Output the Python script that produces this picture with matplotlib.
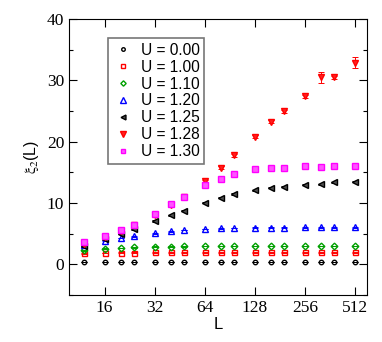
import matplotlib
matplotlib.use('Agg')
import matplotlib.pyplot as plt
from matplotlib.ticker import FixedLocator, NullFormatter

# system sizes
L = [12, 16, 20, 24, 32, 40, 48, 64, 80, 96, 128, 160, 192, 256, 320, 384, 512]

# xi_2(L) for each U
xi_000 = [0.4, 0.4, 0.4, 0.4, 0.4, 0.4, 0.4, 0.4, 0.4, 0.4, 0.4, 0.4, 0.4, 0.4, 0.4, 0.4, 0.4]
xi_100 = [1.8, 1.9, 1.95, 1.95, 2.0, 2.0, 2.0, 2.0, 2.0, 2.0, 2.0, 2.0, 2.0, 2.0, 2.0, 2.0, 2.0]
xi_110 = [2.3, 2.6, 2.7, 2.8, 2.9, 2.9, 2.95, 3.0, 3.0, 3.0, 3.0, 3.0, 3.0, 3.0, 3.0, 3.0, 3.0]
xi_120 = [3.1, 3.9, 4.3, 4.6, 5.1, 5.4, 5.6, 5.8, 5.9, 5.95, 6.0, 6.0, 6.0, 6.05, 6.05, 6.05, 6.05]
xi_125 = [3.0, 4.1, 5.0, 5.8, 7.1, 8.0, 8.8, 10.1, 10.9, 11.5, 12.1, 12.5, 12.7, 13.0, 13.1, 13.4, 13.5]
xi_128 = [3.3, 4.5, 5.5, 6.4, 8.1, 9.7, 11.0, 13.6, 15.8, 17.8, 20.8, 23.3, 25.0, 27.4, 30.5, 30.5, 32.9]
xi_130 = [3.6, 4.6, 5.6, 6.5, 8.3, 9.8, 11.0, 12.9, 14.0, 14.7, 15.5, 15.7, 15.8, 16.0, 15.9, 16.0, 16.0]

err_128 = [0.1, 0.1, 0.1, 0.1, 0.15, 0.15, 0.15, 0.2, 0.2, 0.2, 0.25, 0.25, 0.25, 0.25, 0.9, 0.3, 0.85]
err_small = 0.05

series = [
    ('U = 0.00', xi_000, err_small, 'o', 'none', 'black', 3.2),
    ('U = 1.00', xi_100, err_small, 's', 'none', 'red', 3.6),
    ('U = 1.10', xi_110, err_small, 'D', 'none', '#00a000', 3.4),
    ('U = 1.20', xi_120, err_small, '^', 'none', 'blue', 5.0),
    ('U = 1.25', xi_125, 0.1, '<', '#505050', 'black', 4.4),
    ('U = 1.28', xi_128, err_128, 'v', '#ff2020', 'red', 4.8),
    ('U = 1.30', xi_130, 0.1, 's', '#ff55ff', 'magenta', 4.4),
]

plt.rcParams['mathtext.fontset'] = 'stix'

fig = plt.figure(figsize=(3.82, 3.42), dpi=100)
ax = fig.add_axes([0.181, 0.137, 0.78, 0.807])

for label, y, e, m, fc, ec, ms in series:
    ax.errorbar(L, y, yerr=e, fmt='none', ecolor=ec,
                elinewidth=0.7, capsize=2.5, capthick=0.7)
    ax.plot(L, y, m, mfc=fc, mec=ec, ms=ms, mew=1.0, label=label)

ax.set_xscale('log', base=2)
ax.set_xlim(9.8, 605)
ax.set_ylim(-5, 40)

ax.xaxis.set_major_locator(FixedLocator([16, 32, 64, 128, 256, 512]))
ax.set_xticklabels(['16', '32', '64', '128', '256', '512'])
ax.xaxis.set_minor_formatter(NullFormatter())
ax.xaxis.set_minor_locator(FixedLocator([]))
ax.yaxis.set_major_locator(FixedLocator([0, 10, 20, 30, 40]))
ax.yaxis.set_minor_locator(FixedLocator([-5, 5, 15, 25, 35]))

ax.tick_params(which='both', direction='in', top=True, right=True,
               labelfontfamily='Liberation Serif', labelsize=12.5)
ax.tick_params(which='major', length=6, width=0.8)
ax.tick_params(which='minor', length=3, width=0.8)

ax.set_xlabel('L', fontfamily='Liberation Sans', fontsize=12, labelpad=1)
ax.set_ylabel(r'$\mathrm{\xi}_2$(L)', fontfamily='Liberation Sans', fontsize=11.5, labelpad=4)

leg = ax.legend(loc='upper left', bbox_to_anchor=(0.131, 0.931), borderaxespad=0,
                frameon=True, fancybox=False, edgecolor='#555555',
                prop={'family': 'Liberation Sans', 'size': 11.2},
                handlelength=1.3, handletextpad=0.5, labelspacing=0.12, borderpad=0.3,
                numpoints=1, markerscale=0.8)
leg.get_frame().set_linewidth(1.2)

fig.savefig('out.png', dpi=100)
